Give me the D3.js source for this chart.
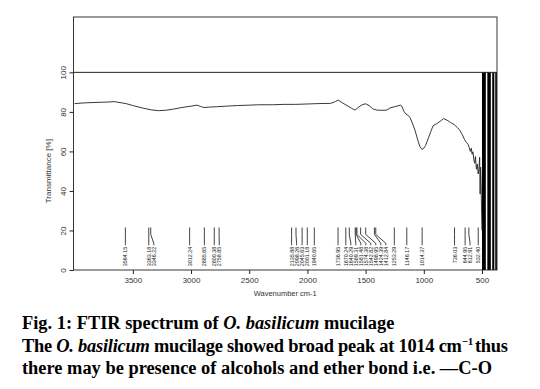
<!DOCTYPE html>
<html>
<head>
<meta charset="utf-8">
<script src="https://cdn.jsdelivr.net/npm/d3@7"></script>
<style>
  body { margin: 0; background: #fff; }
  svg { display: block; }
</style>
</head>
<body>
<svg id="chart" width="540" height="389"></svg>
<script>
// spectrum (wavenumber cm-1, transmittance %)
var waveNumbers = [4000, 3900, 3800, 3700, 3660, 3600, 3560, 3500, 3420, 3340, 3280, 3220, 3150, 3080, 3000, 2950, 2920, 2890, 2850, 2780, 2700, 2600, 2500, 2420, 2300, 2200, 2100, 2000, 1900, 1800, 1760, 1736, 1700, 1660, 1620, 1591, 1560, 1530, 1500, 1470, 1440, 1404, 1360, 1318, 1290, 1240, 1200, 1190, 1170, 1153, 1130, 1118, 1100, 1076, 1050, 1033, 1016, 1000, 985, 960, 940, 920, 890, 860, 830, 800, 770, 740, 710, 690, 670, 650, 635, 620, 610, 600, 592, 585, 578, 570, 563, 556, 548, 540, 533, 526, 520, 516, 512, 508, 503, 500];
var transmittance = [84.2, 84.6, 84.8, 85.0, 85.2, 84.6, 84.2, 83.2, 82.0, 81.0, 80.6, 80.8, 81.4, 82.2, 82.9, 83.4, 82.8, 82.2, 82.4, 82.6, 82.9, 83.2, 83.4, 83.6, 83.6, 83.8, 83.8, 84.0, 84.2, 84.3, 85.2, 86.0, 84.6, 83.2, 81.8, 80.9, 82.4, 83.6, 84.1, 83.2, 81.6, 80.9, 80.8, 80.9, 82.0, 82.8, 83.4, 83.0, 80.2, 78.9, 78.0, 77.0, 74.6, 70.8, 65.4, 62.4, 61.0, 61.6, 63.0, 66.8, 70.0, 73.0, 74.0, 75.2, 76.6, 75.8, 74.6, 73.6, 72.0, 70.6, 68.6, 66.0, 64.6, 63.6, 62.0, 60.0, 61.6, 58.6, 59.8, 55.8, 54.0, 57.4, 51.0, 53.6, 48.6, 51.2, 57.0, 38.4, 52.0, 45.0, 28.0, 20.0];
// noisy end of the scan, below 500 cm-1 (solid black bands)
var noiseStart = [500, 454, 412, 386];
var noiseEnd = [467, 424, 394, 372];
// peak picks
var peakLabels = ["3564.15", "3363.18", "3346.22", "3012.24", "2885.65", "2800.38", "2758.85", "2135.88", "2098.26", "2045.63", "2001.18", "1940.65", "1736.95", "1670.24", "1640.29", "1589.31", "1581.48", "1574.38", "1542.82", "1498.95", "1424.39", "1412.84", "1253.29", "1146.17", "1014.37", "736.03", "644.95", "612.91", "532.40"];
var xTicks = [3500, 3000, 2500, 2000, 1500, 1000, 500];
var yTicks = [0, 20, 40, 60, 80, 100];

var svg = d3.select("#chart");
var plotL = 73.5, plotR = 497, plotT = 17, plotB = 270;

var x = d3.scaleLinear().domain([4010, 371]).range([plotL, plotR]);
var y = d3.scaleLinear().domain([0, 128]).range([plotB, plotT]);

var axisColor = "#222";
var textColor = "#333";

// noise bands
svg.append("g").selectAll("rect")
  .data(noiseStart)
  .enter().append("rect")
  .attr("x", function (d) { return x(d); })
  .attr("y", y(100))
  .attr("width", function (d, i) { return x(noiseEnd[i]) - x(d); })
  .attr("height", y(0) - y(100))
  .attr("fill", "#000");

// spectrum
var line = d3.line()
  .x(function (d) { return x(d); })
  .y(function (d, i) { return y(transmittance[i]); });
svg.append("path")
  .attr("d", line(waveNumbers))
  .attr("fill", "none")
  .attr("stroke", "#222")
  .attr("stroke-width", 0.9);

// 100% line
svg.append("line")
  .attr("x1", plotL).attr("x2", plotR)
  .attr("y1", y(100)).attr("y2", y(100))
  .attr("stroke", axisColor).attr("stroke-width", 1);

// frame
svg.append("rect")
  .attr("x", plotL).attr("y", plotT)
  .attr("width", plotR - plotL).attr("height", plotB - plotT)
  .attr("fill", "none").attr("stroke", axisColor).attr("stroke-width", 0.9);

// peak markers: spread labels so they don't overlap
var peaks = peakLabels.map(function (s) { return {v: +s, s: s}; });
peaks.sort(function (a, b) { return b.v - a.v; });
var gap = 5;
peaks.forEach(function (p, i) {
  p.x = x(p.v);
  p.lx = i ? Math.max(p.x, peaks[i - 1].lx + gap) : p.x;
});
var pk = svg.append("g");
pk.selectAll("path")
  .data(peaks)
  .enter().append("path")
  .attr("d", function (p) {
    return "M" + p.x + "," + y(21.5) + "V" + y(18) + "L" + p.lx + "," + y(13.5) + "V" + y(12.5);
  })
  .attr("fill", "none").attr("stroke", "#111").attr("stroke-width", 0.8);
pk.selectAll("text")
  .data(peaks)
  .enter().append("text")
  .attr("transform", function (p) { return "translate(" + (p.lx + 2) + "," + (y(12.5) + 1.5) + ") rotate(-90)"; })
  .attr("text-anchor", "end")
  .attr("font-family", "Liberation Sans, Arial, sans-serif")
  .attr("font-size", 5.4)
  .attr("fill", "#222")
  .text(function (p) { return p.s; });

// x axis
var xAxis = svg.append("g")
  .attr("transform", "translate(0," + plotB + ")")
  .call(d3.axisBottom(x).tickValues(xTicks).tickSize(4).tickPadding(3).tickFormat(d3.format("d")));
xAxis.select(".domain").remove();
xAxis.selectAll("line").attr("stroke", axisColor);
xAxis.selectAll("text")
  .attr("font-family", "Liberation Sans, Arial, sans-serif")
  .attr("font-size", 8).attr("fill", textColor);

// y axis, labels turned
var yAxis = svg.append("g")
  .attr("transform", "translate(" + plotL + ",0)")
  .call(d3.axisLeft(y).tickValues(yTicks).tickSize(4).tickFormat(d3.format("d")));
yAxis.select(".domain").remove();
yAxis.selectAll("line").attr("stroke", axisColor);
yAxis.selectAll("text")
  .attr("x", null).attr("dy", null)
  .attr("transform", "translate(-8,0) rotate(-90)")
  .attr("text-anchor", "middle")
  .attr("font-family", "Liberation Sans, Arial, sans-serif")
  .attr("font-size", 8).attr("fill", textColor);

// axis titles
svg.append("text")
  .attr("x", (plotL + plotR) / 2).attr("y", 296)
  .attr("text-anchor", "middle")
  .attr("font-family", "Liberation Sans, Arial, sans-serif")
  .attr("font-size", 7.5).attr("fill", textColor)
  .text("Wavenumber cm-1");
svg.append("text")
  .attr("transform", "translate(51," + ((y(0) + y(100)) / 2) + ") rotate(-90)")
  .attr("text-anchor", "middle")
  .attr("font-family", "Liberation Sans, Arial, sans-serif")
  .attr("font-size", 8).attr("fill", textColor)
  .text("Transmittance [%]");

// caption
var cap = svg.append("g")
  .attr("font-family", "Liberation Serif, Times New Roman, serif")
  .attr("font-weight", "bold")
  .attr("font-size", 18.4)
  .attr("fill", "#000");
var t1 = cap.append("text").attr("x", 22).attr("y", 329);
t1.append("tspan").text("Fig. 1: FTIR spectrum of ");
t1.append("tspan").attr("font-style", "italic").text("O. basilicum");
t1.append("tspan").text(" mucilage");
var t2 = cap.append("text").attr("x", 22).attr("y", 352)
  .attr("textLength", 486).attr("lengthAdjust", "spacing");
t2.append("tspan").text("The ");
t2.append("tspan").attr("font-style", "italic").text("O. basilicum");
t2.append("tspan").text(" mucilage showed broad peak at 1014 cm");
t2.append("tspan").attr("font-size", 11).attr("dy", -7).text("\u22121");
t2.append("tspan").attr("dy", 7).attr("dx", 2).text("thus");
cap.append("text").attr("x", 22).attr("y", 374)
  .text("there may be presence of alcohols and ether bond i.e. \u2014C-O");
</script>
</body>
</html>
